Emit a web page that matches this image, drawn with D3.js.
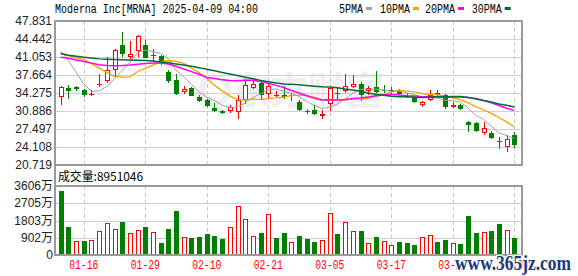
<!DOCTYPE html>
<html lang="en">
<head>
<meta charset="UTF-8">
<title>Moderna Inc[MRNA]</title>
<script src="https://d3js.org/d3.v7.min.js"></script>
<style>
    body { margin: 0; background: #fff; }
    svg { display: block; }
    .mono { font-family: "Liberation Mono", "DejaVu Sans Mono", monospace; font-size: 12px; }
    .axis-label { font-family: "Liberation Sans", Arial, "Noto Sans CJK SC", sans-serif; font-size: 12px; fill: #222; }
</style>
</head>
<body>
<div id="chart"></div>
<script>
// trading days shown
const dates = ["01-13","01-14","01-15","01-16","01-17","01-21","01-22","01-23","01-24","01-27",
    "01-28","01-29","01-30","01-31","02-03","02-04","02-05","02-06","02-07","02-10",
    "02-11","02-12","02-13","02-14","02-18","02-19","02-20","02-21","02-24","02-25",
    "02-26","02-27","02-28","03-03","03-04","03-05","03-06","03-07","03-10","03-11",
    "03-12","03-13","03-14","03-17","03-18","03-19","03-20","03-21","03-24","03-25",
    "03-26","03-27","03-28","03-31","04-01","04-02","04-03","04-04","04-07","04-08"];

const open  = [33.46,35.28,35.34,34.84,33.96,35.72,36.47,38.67,43.38,40.99,
    42.12,43.31,41.49,41.24,38.29,36.79,34.46,35.22,33.58,33.02,
    31.51,30.89,30.95,30.70,32.96,35.15,36.16,34.09,33.77,33.96,
    33.71,32.58,30.70,31.14,29.88,32.20,34.09,34.71,35.34,35.97,
    34.59,35.34,34.90,34.90,34.59,33.77,33.46,32.08,32.96,34.27,
    33.96,31.58,32.08,28.81,28.63,26.81,26.68,25.17,24.04,26.43];
const high  = [35.53,35.84,35.66,35.03,34.84,37.85,41.05,42.62,45.70,44.13,
    45.26,44.32,42.62,41.49,38.67,37.85,35.66,35.34,33.84,33.21,
    32.33,31.14,32.08,33.96,36.91,36.72,36.47,35.97,34.71,35.53,
    34.21,33.02,31.32,32.08,31.14,35.34,35.22,37.85,37.73,36.35,
    35.53,38.35,35.84,35.34,35.09,34.21,33.65,32.83,34.90,34.90,
    34.09,32.58,32.27,28.94,28.81,28.81,27.18,25.93,26.30,26.93];
const low   = [32.08,33.21,34.59,33.46,33.65,35.34,36.09,37.22,40.99,40.68,
    40.99,40.80,40.05,39.61,36.09,33.96,34.09,33.65,32.52,31.58,
    30.70,30.32,30.45,29.38,32.20,35.03,33.02,33.21,33.46,33.08,
    32.83,30.95,30.32,30.19,29.44,30.95,33.21,34.27,35.22,32.83,
    33.84,34.27,34.27,33.96,33.84,33.33,32.45,31.58,32.83,33.65,
    31.32,31.45,31.14,26.87,26.93,26.30,25.68,23.79,23.10,23.92];
const close = [35.34,34.59,34.97,33.84,34.09,35.91,38.61,42.43,41.62,41.70,
    45.01,40.87,41.18,39.99,36.60,34.09,35.09,33.71,32.71,31.89,
    30.95,30.57,31.70,32.96,35.84,36.03,33.96,35.53,33.96,33.58,
    33.90,31.14,30.89,30.38,30.38,35.22,34.27,35.53,35.97,33.84,
    35.22,34.46,34.71,34.71,34.09,33.58,32.58,32.64,33.96,33.84,
    31.64,32.08,31.26,28.31,27.18,27.69,25.74,24.98,25.68,24.55];

const ma5  = [42.20,40.40,38.20,36.00,34.57,34.68,35.48,36.98,38.53,40.06,
    41.88,42.33,42.08,41.75,40.73,38.55,37.39,35.90,34.44,33.50,
    32.87,31.97,31.56,31.61,32.40,33.42,34.10,34.86,35.06,34.61,
    34.19,33.62,32.69,31.98,31.34,31.60,32.23,33.16,34.27,34.97,
    34.97,35.00,34.84,34.59,34.64,34.31,33.93,33.52,33.37,33.32,
    32.93,32.83,32.56,31.43,30.09,29.30,28.04,26.78,26.25,25.73];
const ma10 = [41.70,41.30,40.90,40.55,39.80,39.00,38.10,37.40,37.25,37.31,
    38.28,38.91,39.53,40.14,40.39,40.21,39.86,38.99,38.10,37.11,
    35.71,34.68,33.73,33.03,32.95,33.15,33.03,33.21,33.34,33.51,
    33.80,33.86,33.78,33.52,32.98,32.89,32.93,32.93,33.13,33.15,
    33.28,33.62,34.00,34.43,34.80,34.64,34.47,34.18,33.98,33.98,
    33.62,33.38,33.04,32.40,31.71,31.12,30.43,29.67,28.84,27.91];
const ma20 = [41.00,40.80,40.50,40.20,39.90,39.60,39.45,39.40,39.45,39.55,
    39.70,39.85,39.90,39.90,39.75,39.30,38.80,38.30,37.80,37.21,
    36.99,36.79,36.62,36.58,36.67,36.67,36.44,36.10,35.71,35.31,
    34.76,34.27,33.75,33.27,32.96,33.02,32.98,33.07,33.23,33.33,
    33.54,33.74,33.89,33.98,33.89,33.77,33.70,33.55,33.55,33.57,
    33.45,33.50,33.52,33.41,33.25,32.88,32.45,31.92,31.41,30.95];
const ma30 = [41.70,41.40,41.20,41.00,40.85,40.70,40.65,40.60,40.55,40.50,
    40.45,40.40,40.30,40.10,39.95,39.75,39.55,39.30,39.05,38.75,
    38.45,38.15,37.85,37.55,37.25,36.95,36.65,36.40,36.15,35.97,
    35.93,35.81,35.68,35.56,35.44,35.41,35.27,35.04,34.85,34.59,
    34.27,34.05,33.84,33.66,33.58,33.56,33.48,33.44,33.48,33.55,
    33.57,33.62,33.61,33.45,33.16,32.85,32.58,32.22,31.95,31.65];

// volume in 万 shares; volUp: 1 = red (hollow), 0 = green
const volume = [3360,1488,718,735,770,1243,1663,1348,1715,1173,
    1295,1470,1190,630,1365,2310,928,900,950,1103,
    1015,840,1470,2555,1890,998,1155,2135,910,1155,
    665,998,840,683,770,2188,1103,1715,1260,1260,
    630,945,725,525,683,630,525,945,1050,683,
    788,630,578,2048,1155,1190,1260,1628,1313,895];
const volUp = [0,0,1,0,1,1,1,1,0,1, 1,0,1,0,0,0,1,0,0,0,
    0,0,1,1,1,1,0,1,0,0, 1,0,0,0,1,1,0,1,1,0,
    1,0,1,1,0,0,0,1,1,0, 0,1,0,0,0,1,0,0,1,0];

const priceTicks = [20.719, 24.108, 27.497, 30.886, 34.275, 37.664, 41.053, 44.442, 47.831];
const volTicks = [0, 902, 1803, 2705, 3606];
const dateTicks = ["01-16","01-29","02-10","02-21","03-05","03-17","03-27","04-08"];

const maSeries = [
    { name: "5PMA",  values: ma5,  color: "#a0a0a0", w: 1 },
    { name: "10PMA", values: ma10, color: "#f5a300", w: 1.3 },
    { name: "20PMA", values: ma20, color: "#ff00ff", w: 1.5 },
    { name: "30PMA", values: ma30, color: "#006b33", w: 1.5 }
];

const W = 578, H = 276;
const plotLeft = 55, plotRight = 522, plotTop = 21, mainBottom = 165, volTop = 186, volBottom = 255;
const RED = "#ff0000", GREEN = "#008000";

const svg = d3.select("#chart").append("svg")
    .attr("width", W).attr("height", H);

const x = d3.scalePoint().domain(d3.range(dates.length)).range([60.7, 514.3]);
const y = d3.scaleLinear().domain([priceTicks[0], priceTicks[priceTicks.length - 1]]).range([mainBottom, plotTop]);
const yv = d3.scaleLinear().domain([0, 3606]).range([volBottom, volTop]);

// watermark
svg.append("text")
    .attr("x", 232).attr("y", 104)
    .style("font-family", "'Noto Sans CJK SC', sans-serif")
    .style("font-size", "38px").style("font-weight", "bold")
    .attr("fill", "#efefef")
    .text("东方财富");
svg.append("circle").attr("cx", 215).attr("cy", 90).attr("r", 13)
    .attr("fill", "none").attr("stroke", "#efefef").attr("stroke-width", 6);

// horizontal grid
const grid = svg.append("g").attr("shape-rendering", "crispEdges");
grid.selectAll("line.hp").data(priceTicks.slice(1, -1)).enter().append("line")
    .attr("x1", plotLeft).attr("x2", plotRight)
    .attr("y1", d => Math.round(y(d)) + 0.5).attr("y2", d => Math.round(y(d)) + 0.5)
    .attr("stroke", "#d0d0d0");
grid.selectAll("line.hv").data(volTicks.slice(1, -1)).enter().append("line")
    .attr("x1", plotLeft).attr("x2", plotRight)
    .attr("y1", d => Math.round(yv(d)) + 0.5).attr("y2", d => Math.round(yv(d)) + 0.5)
    .attr("stroke", "#d0d0d0");

// vertical dashed grid at date ticks
const tickIdx = dateTicks.map(t => dates.indexOf(t));
[[plotTop, mainBottom], [volTop, volBottom]].forEach(([y0, y1]) => {
    grid.selectAll(null).data(tickIdx).enter().append("line")
        .attr("x1", d => Math.round(x(d)) + 0.5).attr("x2", d => Math.round(x(d)) + 0.5)
        .attr("y1", y0).attr("y2", y1)
        .attr("stroke", "#c8c8c8").attr("stroke-dasharray", "4,3");
});

// candles
const cg = svg.append("g").attr("shape-rendering", "crispEdges");
const candles = cg.selectAll("g.c").data(d3.range(dates.length)).enter().append("g");
candles.each(function(i) {
    const g = d3.select(this);
    const cx = Math.round(x(i));
    const up = close[i] >= open[i];
    const col = up ? RED : GREEN;
    const yo = Math.round(y(open[i])), yc = Math.round(y(close[i]));
    const yh = Math.round(y(high[i])), yl = Math.round(y(low[i]));
    const bTop = Math.min(yo, yc), bBot = Math.max(yo, yc);
    if (up) {
        g.append("line").attr("x1", cx + 0.5).attr("x2", cx + 0.5).attr("y1", yh).attr("y2", bTop).attr("stroke", col);
        g.append("line").attr("x1", cx + 0.5).attr("x2", cx + 0.5).attr("y1", bBot).attr("y2", yl).attr("stroke", col);
        if (bBot - bTop < 2) {
            g.append("rect").attr("x", cx - 2).attr("y", bTop).attr("width", 5).attr("height", Math.max(1, bBot - bTop)).attr("fill", col);
        } else {
            g.append("rect").attr("x", cx - 1.5).attr("y", bTop + 0.5).attr("width", 4).attr("height", bBot - bTop - 1)
                .attr("fill", "#fff").attr("stroke", col);
        }
    } else {
        g.append("line").attr("x1", cx + 0.5).attr("x2", cx + 0.5).attr("y1", yh).attr("y2", yl).attr("stroke", col);
        g.append("rect").attr("x", cx - 2).attr("y", bTop).attr("width", 5).attr("height", Math.max(1, bBot - bTop)).attr("fill", col);
    }
});

// moving averages
const line = d3.line().x((d, i) => x(i)).y(d => y(d));
svg.append("g").selectAll("path").data(maSeries).enter().append("path")
    .attr("d", d => line(d.values))
    .attr("fill", "none")
    .attr("stroke", d => d.color)
    .attr("stroke-width", d => d.w);

// volume bars
const vg = svg.append("g").attr("shape-rendering", "crispEdges");
vg.selectAll("rect").data(d3.range(volume.length)).enter().append("rect")
    .each(function(i) {
        const cx = Math.round(x(i));
        const yt = Math.round(yv(volume[i]));
        const r = d3.select(this);
        if (volUp[i]) {
            r.attr("x", cx - 1.5).attr("y", yt + 0.5).attr("width", 4).attr("height", volBottom - yt - 1)
                .attr("fill", "#fff").attr("stroke", RED);
        } else {
            r.attr("x", cx - 2).attr("y", yt).attr("width", 5).attr("height", volBottom - yt).attr("fill", GREEN);
        }
    });

// frames
const frame = svg.append("g").attr("fill", "none").attr("stroke", "#9a9a9a").attr("stroke-width", 1.5)
    .attr("shape-rendering", "crispEdges");
frame.append("rect").attr("x", plotLeft).attr("y", plotTop).attr("width", plotRight - plotLeft).attr("height", mainBottom - plotTop);
frame.append("rect").attr("x", plotLeft).attr("y", volTop).attr("width", plotRight - plotLeft).attr("height", volBottom - volTop);
frame.append("line").attr("x1", plotLeft).attr("x2", plotLeft).attr("y1", mainBottom).attr("y2", volTop);

// price axis labels
svg.append("g").selectAll("text").data(priceTicks).enter().append("text")
    .attr("class", "axis-label")
    .attr("x", 52).attr("y", d => y(d) + 4)
    .attr("text-anchor", "end")
    .text(d => d.toFixed(3));

// volume axis labels
svg.append("g").selectAll("text").data(volTicks).enter().append("text")
    .attr("class", "axis-label")
    .attr("x", 53).attr("y", d => yv(d) + 4)
    .attr("text-anchor", "end")
    .text(d => d === 0 ? "0" : d + "万");

// date labels
svg.append("g").selectAll("text").data(tickIdx).enter().append("text")
    .attr("class", "mono")
    .attr("x", d => x(d)).attr("y", 269)
    .attr("text-anchor", "middle")
    .attr("fill", RED)
    .attr("textLength", 29).attr("lengthAdjust", "spacingAndGlyphs")
    .text(d => dates[d]);

// title and legend
svg.append("text").attr("class", "mono")
    .attr("x", 55).attr("y", 13)
    .attr("textLength", 203).attr("lengthAdjust", "spacingAndGlyphs")
    .text("Moderna Inc[MRNA] 2025-04-09 04:00");

const legendX = [339, 380, 425, 471.7];
const lg = svg.append("g").selectAll("g").data(maSeries).enter().append("g")
    .attr("transform", (d, i) => `translate(${legendX[i]},0)`);
lg.append("text").attr("class", "mono").attr("y", 13)
    .attr("textLength", d => d.name.length * 6).attr("lengthAdjust", "spacingAndGlyphs")
    .text(d => d.name);
lg.append("rect")
    .attr("x", d => d.name.length * 6 + 3).attr("y", 7)
    .attr("width", 6).attr("height", 3)
    .attr("fill", d => d.color);

// volume caption
svg.append("text")
    .attr("x", 58).attr("y", 181)
    .style("font-family", "'Noto Sans CJK SC', 'Liberation Mono', monospace")
    .style("font-size", "12px")
    .attr("textLength", 85).attr("lengthAdjust", "spacingAndGlyphs")
    .text("成交量:" + "8951046");

// site watermark
svg.append("text")
    .attr("x", 455).attr("y", 270)
    .style("font-family", "'Liberation Serif', serif")
    .style("font-size", "21px").style("font-weight", "bold")
    .attr("fill", "#1d3a78")
    .attr("stroke", "#fff").attr("stroke-width", 2.5).attr("paint-order", "stroke")
    .attr("textLength", 116).attr("lengthAdjust", "spacingAndGlyphs")
    .text("www.365jz.com");
</script>
</body>
</html>
